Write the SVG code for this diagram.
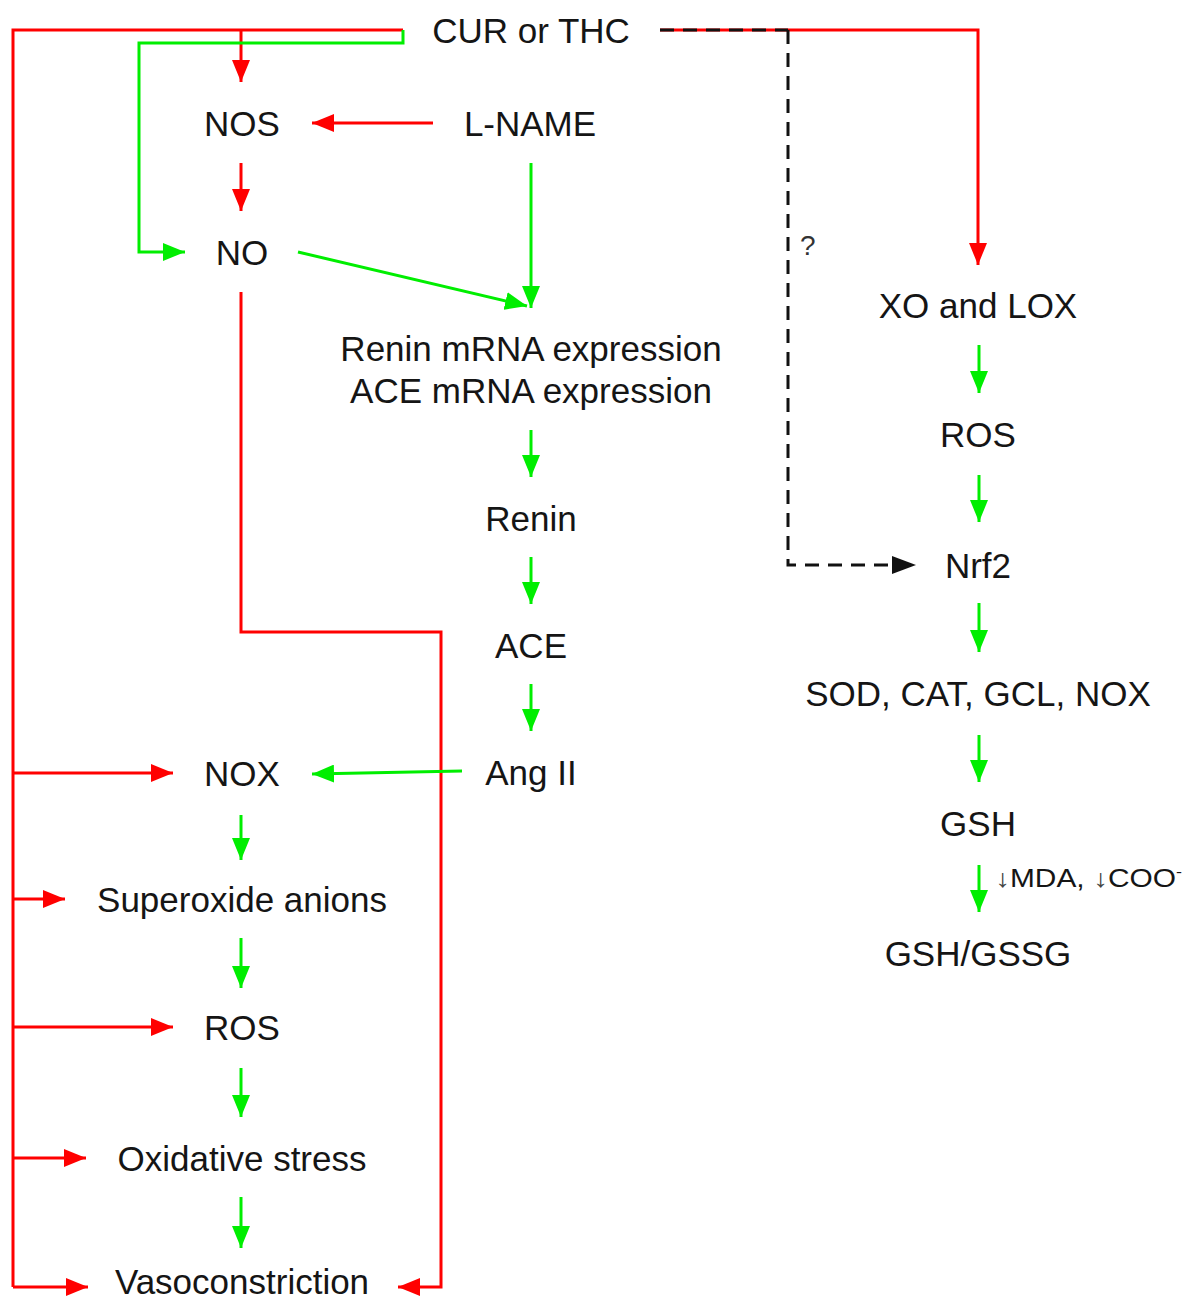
<svg xmlns="http://www.w3.org/2000/svg" width="1185" height="1302" viewBox="0 0 1185 1302">
<defs>
<style>
.t{font-family:"Liberation Sans",Arial,sans-serif;font-size:35px;fill:#151515;text-anchor:middle}
.r{stroke:#ff0000;stroke-width:3;fill:none}
.g{stroke:#00ee00;stroke-width:3;fill:none}
.k{stroke:#111;stroke-width:3;fill:none;stroke-dasharray:14 9}
</style>
<marker id="ar" viewBox="0 0 22 18" refX="22" refY="9" markerWidth="22" markerHeight="18" markerUnits="userSpaceOnUse" orient="auto"><path d="M0,0 L22,9 L0,18 z" fill="#ff0000"/></marker>
<marker id="ag" viewBox="0 0 22 18" refX="22" refY="9" markerWidth="22" markerHeight="18" markerUnits="userSpaceOnUse" orient="auto"><path d="M0,0 L22,9 L0,18 z" fill="#00ee00"/></marker>
<marker id="ak" viewBox="0 0 24 18" refX="24" refY="9" markerWidth="24" markerHeight="18" markerUnits="userSpaceOnUse" orient="auto"><path d="M0,0 L24,9 L0,18 z" fill="#111"/></marker>
</defs>
<rect width="1185" height="1302" fill="#fff"/>
<g id="connectors">
<path class="r" d="M403,30 H13 V1287"/>
<path class="r" d="M241,30 V82" marker-end="url(#ar)"/>
<path class="r" d="M13,773 H173" marker-end="url(#ar)"/>
<path class="r" d="M13,899 H65" marker-end="url(#ar)"/>
<path class="r" d="M13,1027 H173" marker-end="url(#ar)"/>
<path class="r" d="M13,1158 H86" marker-end="url(#ar)"/>
<path class="r" d="M13,1287 H88" marker-end="url(#ar)"/>
<path class="g" d="M403,30 V43 H139 V252 H185" marker-end="url(#ag)"/>
<path class="r" d="M433,123 H312" marker-end="url(#ar)"/>
<path class="r" d="M241,163 V211" marker-end="url(#ar)"/>
<path class="g" d="M531,163 V308" marker-end="url(#ag)"/>
<path class="g" d="M298,252 L527,306" marker-end="url(#ag)"/>
<path class="r" d="M241,292 V632 H441 V1287 H398" marker-end="url(#ar)"/>
<path class="g" d="M531,430 V477" marker-end="url(#ag)"/>
<path class="g" d="M531,557 V604" marker-end="url(#ag)"/>
<path class="g" d="M531,684 V731" marker-end="url(#ag)"/>
<path class="g" d="M462,771 L312,774" marker-end="url(#ag)"/>
<path class="g" d="M241,815 V860" marker-end="url(#ag)"/>
<path class="g" d="M241,938 V988" marker-end="url(#ag)"/>
<path class="g" d="M241,1068 V1117" marker-end="url(#ag)"/>
<path class="g" d="M241,1197 V1248" marker-end="url(#ag)"/>
<path class="r" d="M660,30 H978 V265" marker-end="url(#ar)"/>
<path class="k" d="M660,30 H788"/>
<path class="k" d="M788,30 V565 H916" marker-end="url(#ak)"/>
<path class="g" d="M979,345 V393" marker-end="url(#ag)"/>
<path class="g" d="M979,475 V522" marker-end="url(#ag)"/>
<path class="g" d="M979,603 V652" marker-end="url(#ag)"/>
<path class="g" d="M979,735 V782" marker-end="url(#ag)"/>
<path class="g" d="M979,865 V912" marker-end="url(#ag)"/>
</g>
<g id="labels">
<text x="800" y="255" style="font-family:'Liberation Sans',Arial,sans-serif;font-size:28px;fill:#333">?</text>
<text x="995" y="887" textLength="187" lengthAdjust="spacingAndGlyphs" style="font-family:'Liberation Sans','DejaVu Sans',sans-serif;font-size:25px;fill:#151515"><tspan fill="#444">↓</tspan>MDA, <tspan fill="#444">↓</tspan>COO<tspan dy="-10" font-size="15">-</tspan></text>
</g>
<g id="n-cur"><text class="t" x="531" y="43">CUR or THC</text></g>
<g id="n-nos"><text class="t" x="242" y="136">NOS</text></g>
<g id="n-lname"><text class="t" x="530" y="136">L-NAME</text></g>
<g id="n-no"><text class="t" x="242" y="265">NO</text></g>
<g id="n-mrna"><text class="t" x="531" y="361">Renin mRNA expression</text><text class="t" x="531" y="403">ACE mRNA expression</text></g>
<g id="n-renin"><text class="t" x="531" y="531">Renin</text></g>
<g id="n-ace"><text class="t" x="531" y="658">ACE</text></g>
<g id="n-ang"><text class="t" x="531" y="785">Ang II</text></g>
<g id="n-nox"><text class="t" x="242" y="786">NOX</text></g>
<g id="n-super"><text class="t" x="242" y="912">Superoxide anions</text></g>
<g id="n-ros1"><text class="t" x="242" y="1040">ROS</text></g>
<g id="n-ox"><text class="t" x="242" y="1171">Oxidative stress</text></g>
<g id="n-vaso"><text class="t" x="242" y="1294">Vasoconstriction</text></g>
<g id="n-xo"><text class="t" x="978" y="318">XO and LOX</text></g>
<g id="n-ros2"><text class="t" x="978" y="447">ROS</text></g>
<g id="n-nrf2"><text class="t" x="978" y="578">Nrf2</text></g>
<g id="n-sod"><text class="t" x="978" y="706">SOD, CAT, GCL, NOX</text></g>
<g id="n-gsh"><text class="t" x="978" y="836">GSH</text></g>
<g id="n-gssg"><text class="t" x="978" y="966">GSH/GSSG</text></g>
</svg>
